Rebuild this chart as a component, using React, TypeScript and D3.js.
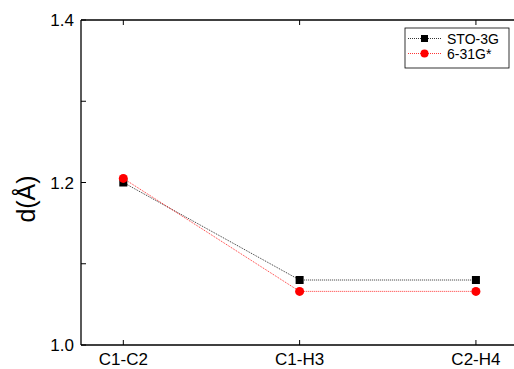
import React from "react";
import * as d3 from "d3";

const categories = ["C1-C2", "C1-H3", "C2-H4"];
const sto3g = [1.2, 1.08, 1.08];
const g631 = [1.205, 1.066, 1.066];
const yTicks = [1.0, 1.2, 1.4];
const yMinor = [1.1, 1.3];
const seriesNames = ["STO-3G", "6-31G*"];

export default function App() {
  const W = 514, H = 369;
  const left = 81, top = 20, bottom = 345;
  const x = d3.scaleLinear().domain([-0.24, 2.25]).range([left, 520]);
  const y = d3.scaleLinear().domain([1.0, 1.4]).range([bottom, top]);
  const right = x(2.25);
  const line = d3.line<number>().x((_, i) => x(i)).y((d) => y(d));
  const font = "Arial, 'Liberation Sans', sans-serif";
  const tl = 5;
  return (
    <svg width={W} height={H} style={{ position: "absolute", left: 0, top: 0, background: "#fff" }}>
      <rect x={0} y={0} width={W} height={H} fill="#fff" />
      <g stroke="#000" strokeWidth={1.3} fill="none">
        <line x1={left} y1={top} x2={left} y2={bottom} />
        <line x1={left} y1={bottom} x2={right} y2={bottom} />
        <line x1={left} y1={top} x2={right} y2={top} />
        <line x1={right} y1={top} x2={right} y2={bottom} />
      </g>
      <g stroke="#000" strokeWidth={1}>
        {yTicks.concat(yMinor).map((t) => (
          <g key={t}>
            <line x1={left} x2={left + tl} y1={y(t)} y2={y(t)} />
            <line x1={right} x2={right - tl} y1={y(t)} y2={y(t)} />
          </g>
        ))}
        {categories.map((c, i) => (
          <g key={c}>
            <line x1={x(i)} x2={x(i)} y1={bottom} y2={bottom - tl} />
            <line x1={x(i)} x2={x(i)} y1={top} y2={top + tl} />
          </g>
        ))}
      </g>
      {yTicks.map((t) => (
        <text key={t} x={left - 7} y={y(t) + 6} textAnchor="end" fontSize={17} fontFamily={font} fill="#000">
          {t.toFixed(1)}
        </text>
      ))}
      {categories.map((c, i) => (
        <text key={c} x={x(i)} y={bottom + 20} textAnchor="middle" fontSize={17} fontFamily={font} fill="#000">
          {c}
        </text>
      ))}
      <text transform={`translate(35,199) rotate(-90)`} textAnchor="middle" fontSize={25} fontFamily={font} fill="#000">
        d(Å)
      </text>
      <path d={line(sto3g) || ""} fill="none" stroke="#000" strokeWidth={0.8} strokeDasharray="1,1" />
      <path d={line(g631) || ""} fill="none" stroke="#ff0000" strokeWidth={0.8} strokeDasharray="1,1" />
      {sto3g.map((v, i) => (
        <rect key={"s" + i} x={x(i) - 4} y={y(v) - 4} width={8} height={8} fill="#000" />
      ))}
      {g631.map((v, i) => (
        <circle key={"g" + i} cx={x(i)} cy={y(v)} r={4.5} fill="#ff0000" />
      ))}
      <rect x={405} y={28} width={104} height={40} fill="#fff" stroke="#000" strokeWidth={0.8} />
      {seriesNames.map((n, i) => {
        const ly = 38.5 + i * 15;
        const col = i === 0 ? "#000" : "#ff0000";
        return (
          <g key={n}>
            <line x1={408} x2={442} y1={ly} y2={ly} stroke={col} strokeWidth={0.8} strokeDasharray="1,1" />
            {i === 0 ? (
              <rect x={421} y={ly - 3.5} width={7} height={7} fill="#000" />
            ) : (
              <circle cx={424.5} cy={ly} r={4} fill="#ff0000" />
            )}
            <text x={447} y={ly + 5} fontSize={14} fontFamily={font} fill="#000">
              {n}
            </text>
          </g>
        );
      })}
    </svg>
  );
}
